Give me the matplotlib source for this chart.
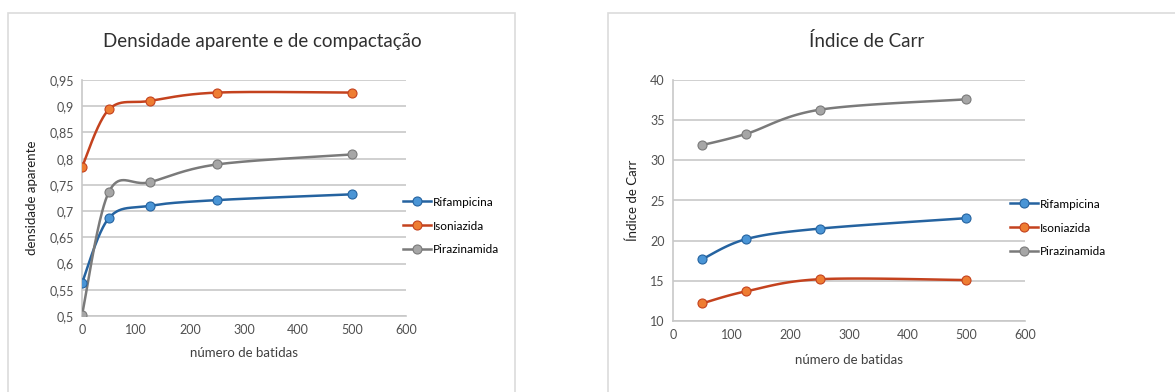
import numpy as np
import matplotlib.pyplot as plt
from matplotlib.patches import Rectangle
from matplotlib.lines import Line2D

plt.rcParams['font.family'] = ['Lato', 'DejaVu Sans']

# tap counts
batidas_dens = [0, 50, 125, 250, 500]
batidas_carr = [50, 125, 250, 500]

# apparent / tapped density
dens_rifampicina = [0.563, 0.687, 0.710, 0.721, 0.732]
dens_isoniazida = [0.784, 0.894, 0.910, 0.926, 0.926]
dens_pirazinamida = [0.502, 0.737, 0.755, 0.789, 0.808]

# Carr index
carr_rifampicina = [17.7, 20.2, 21.5, 22.8]
carr_isoniazida = [12.2, 13.7, 15.2, 15.1]
carr_pirazinamida = [31.9, 33.3, 36.3, 37.6]

series_names = ['Rifampicina', 'Isoniazida', 'Pirazinamida']
line_colors = ['#2563a0', '#c4421e', '#7a7a7a']
marker_colors = ['#4a95d6', '#ee7d32', '#a6a6a6']

W, H = 1175, 392
fig = plt.figure(figsize=(W / 100, H / 100), dpi=100)


def smooth_path(ax, x, y, n=40):
    # Catmull-Rom style bezier smoothing, done in screen space
    pts = ax.transData.transform(np.column_stack([x, y]))
    p = np.vstack([pts[0], pts, pts[-1]])
    out = []
    t = np.linspace(0, 1, n)[:, None]
    for i in range(1, len(p) - 2):
        p0, p1 = p[i], p[i + 1]
        c1 = p0 + (p[i + 1] - p[i - 1]) / 6
        c2 = p1 - (p[i + 2] - p[i]) / 6
        seg = ((1 - t) ** 3) * p0 + 3 * ((1 - t) ** 2) * t * c1 + 3 * (1 - t) * t ** 2 * c2 + t ** 3 * p1
        out.append(seg)
    out = np.vstack(out)
    return ax.transData.inverted().transform(out)


def panel(rect, xs, data, ylim, yticks, ylabel, yfmt, labelpad_x):
    ax = fig.add_axes(rect)
    ax.set_xlim(0, 600)
    ax.set_ylim(*ylim)
    ax.set_xticks(range(0, 601, 100))
    ax.set_yticks(yticks)
    ax.set_yticklabels([yfmt(v) for v in yticks])
    ax.grid(axis='y', color='#c8c8c8', linewidth=1.2)
    ax.set_axisbelow(True)
    for s in ['top', 'right']:
        ax.spines[s].set_visible(False)
    for s in ['left', 'bottom']:
        ax.spines[s].set_color('#c8c8c8')
        ax.spines[s].set_linewidth(1.2)
    ax.tick_params(length=0, labelsize=9, colors='#505050', pad=6)
    ax.set_xlabel('número de batidas', fontsize=9.5, color='#404040', labelpad=labelpad_x)
    ax.set_ylabel(ylabel, fontsize=9.5, color='#202020', labelpad=8)
    fig.canvas.draw()
    handles = []
    for vals, name, lc, mc in zip(data, series_names, line_colors, marker_colors):
        curve = smooth_path(ax, xs, vals)
        ax.plot(curve[:, 0], curve[:, 1], color=lc, linewidth=1.8, zorder=3)
        ax.plot(xs, vals, linestyle='none', marker='o', markersize=6.5,
                markerfacecolor=mc, markeredgecolor=lc, markeredgewidth=0.8, zorder=4)
        handles.append(Line2D([], [], color=lc, linewidth=1.8, marker='o', markersize=6.5,
                              markerfacecolor=mc, markeredgecolor=lc, markeredgewidth=0.8,
                              label=name))
    return ax, handles


def frame(x0, y0, x1, y1):
    fig.patches.append(Rectangle((x0 / W, 1 - y1 / H), (x1 - x0) / W, (y1 - y0) / H,
                                 transform=fig.transFigure, fill=False,
                                 edgecolor='#dcdcdc', linewidth=1.2))


frame(8, 13, 515, 395)
frame(608, 13, 1180, 395)

ax1, h1 = panel([82 / W, 1 - 316 / H, (406 - 82) / W, (316 - 80) / H],
                batidas_dens, [dens_rifampicina, dens_isoniazida, dens_pirazinamida],
                (0.5, 0.95), np.round(np.arange(0.5, 0.951, 0.05), 2), 'densidade aparente',
                lambda v: ('%g' % v).replace('.', ','), 8)
ax2, h2 = panel([673 / W, 1 - 321 / H, (1025 - 673) / W, (321 - 80) / H],
                batidas_carr, [carr_rifampicina, carr_isoniazida, carr_pirazinamida],
                (10, 40), range(10, 41, 5), 'Índice de Carr', lambda v: '%d' % v, 9)

fig.text(262 / W, 1 - 41 / H, 'Densidade aparente e de compactação', ha='center', va='center',
         fontsize=13.5, color='#303030')
fig.text(867 / W, 1 - 41 / H, 'Índice de Carr', ha='center', va='center',
         fontsize=13.5, color='#303030')

for ax, handles, lx, ly in [(ax1, h1, 403, 226), (ax2, h2, 1010, 228)]:
    ax.legend(handles=handles, loc='center left', bbox_to_anchor=(lx / W, 1 - ly / H),
              bbox_transform=fig.transFigure, frameon=False, fontsize=8.5,
              handlelength=2.4, handletextpad=0.15, numpoints=1,
              labelspacing=1.1, borderaxespad=0, borderpad=0)

fig.savefig('out.png', dpi=100, facecolor='white')
